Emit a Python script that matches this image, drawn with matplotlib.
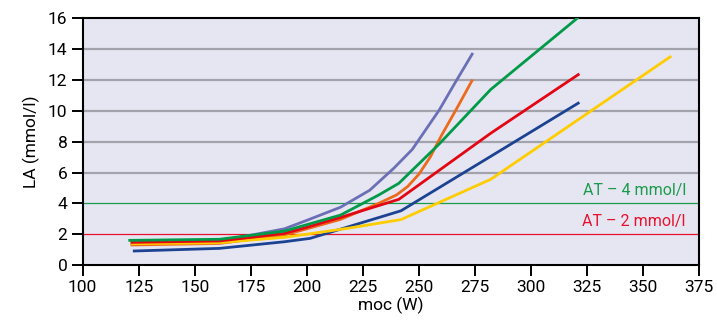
import matplotlib
matplotlib.use("Agg")
import matplotlib.pyplot as plt

plt.rcParams['font.family'] = ['Roboto', 'DejaVu Sans']

# Data (power W, lactate mmol/l)
yellow_x = [122, 161, 190, 200, 219, 242, 282, 362]
yellow_y = [1.38, 1.45, 1.8, 2.0, 2.4, 2.95, 5.56, 13.5]

blue_x = [123, 161, 190, 201.5, 242, 282, 321]
blue_y = [0.91, 1.08, 1.51, 1.73, 3.52, 7.05, 10.5]

red_x = [122, 161, 190, 200, 215, 241, 282, 321]
red_y = [1.47, 1.56, 2.05, 2.45, 3.09, 4.26, 8.55, 12.35]

green_x = [121, 161, 190, 200, 215, 232, 241, 259, 282, 320.5]
green_y = [1.6, 1.67, 2.2, 2.62, 3.24, 4.54, 5.3, 7.85, 11.39, 16.0]

orange_x = [122, 161, 190, 200, 215, 232, 240, 245, 250, 255, 260, 267, 273.6]
orange_y = [1.3, 1.4, 1.95, 2.35, 2.96, 4.0, 4.55, 5.1, 5.9, 7.0, 8.4, 10.2, 11.95]

purple_x = [122, 161, 190, 200, 215, 228, 238.7, 247, 259, 266, 273.7]
purple_y = [1.35, 1.55, 2.35, 2.9, 3.75, 4.85, 6.27, 7.5, 10.05, 11.8, 13.68]

x_ticks = [100, 125, 150, 175, 200, 225, 250, 275, 300, 325, 350, 375]
y_ticks = [0, 2, 4, 6, 8, 10, 12, 14, 16]
grid_levels = [6, 8, 10, 12, 14]
at4_level = 4
at2_level = 2
at4_label = "AT – 4 mmol/l"
at2_label = "AT – 2 mmol/l"

fig = plt.figure(figsize=(7.17, 3.28), dpi=100)
ax = fig.add_axes([0.1153, 0.192, 0.8600, 0.752])
ax.set_facecolor('#E6E6F3')

for g in grid_levels:
    ax.axhline(g, color='#A3A3AB', lw=1.6, zorder=1)
ax.axhline(at4_level, color='#1A9B4B', lw=0.9, zorder=1)
ax.axhline(at2_level, color='#E8112D', lw=0.9, zorder=1)

lw = 2.0
ax.plot(purple_x, purple_y, color='#6B6FB5', lw=lw, zorder=3)
ax.plot(orange_x, orange_y, color='#EC6A1C', lw=lw, zorder=3)
ax.plot(blue_x, blue_y, color='#1C4292', lw=lw, zorder=3)
ax.plot(yellow_x, yellow_y, color='#FFCC00', lw=lw, zorder=4)
ax.plot(red_x, red_y, color='#E30613', lw=lw, zorder=4)
ax.plot(green_x, green_y, color='#009A48', lw=lw, zorder=5)

ax.text(369, 4.35, at4_label, color='#1A9B4B', fontsize=11.5, ha='right', va='bottom')
ax.text(369, 2.35, at2_label, color='#E8112D', fontsize=11.5, ha='right', va='bottom')

ax.set_xlim(100, 375)
ax.set_ylim(0, 16)
ax.set_xticks(x_ticks)
ax.set_yticks(y_ticks)
ax.tick_params(axis='both', direction='out', length=8, width=1.4, labelsize=12.5, pad=3, colors='black')
for s in ax.spines.values():
    s.set_linewidth(1.5)
    s.set_color('black')
ax.set_xlabel('moc (W)', fontsize=12.5, labelpad=1)
ax.set_ylabel('LA (mmol/l)', fontsize=12.5, labelpad=6)

fig.savefig('out.png', dpi=100)
